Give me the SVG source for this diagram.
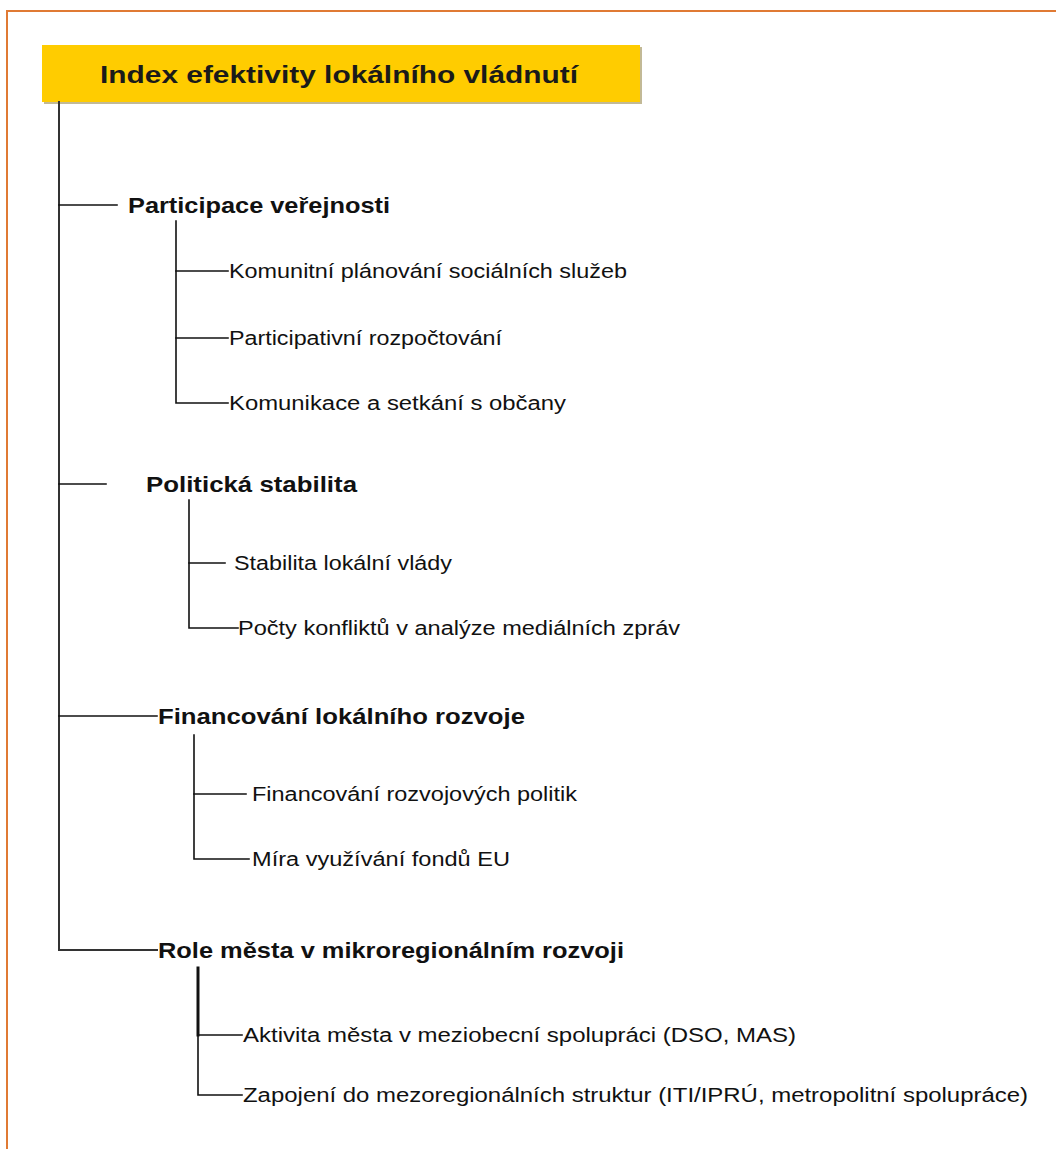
<svg xmlns="http://www.w3.org/2000/svg" width="1056" height="1149" viewBox="0 0 1056 1149">
<style>
.frame{stroke:#E07A34;stroke-width:2;fill:none}
.ln{stroke:#111;stroke-width:1.6;fill:none;stroke-linecap:square}
.t{font-family:"Liberation Sans",Arial,sans-serif;fill:#111}
.h{font-size:22px;font-weight:bold}
.s{font-size:20px}
.title{font-family:"Liberation Sans",Arial,sans-serif;font-size:24px;font-weight:bold;fill:#1a1a1a}
</style>
<rect width="1056" height="1149" fill="#fff"/>
<path class="frame" d="M7,1149 V11 H1056"/>
<g id="root">
<rect x="44" y="47" width="598" height="57" fill="#9a8a50" opacity="0.6"/>
<rect x="42" y="45" width="598" height="57" fill="#FFCC00"/>
<text class="title" x="100" y="83" textLength="478" lengthAdjust="spacingAndGlyphs">Index efektivity lokálního vládnutí</text>
</g>
<g id="connectors">
<path class="ln" d="M59,102 V950 H157" style="stroke:#333;stroke-width:2"/>
<path class="ln" d="M59,205 H117"/>
<path class="ln" d="M59,484 H106"/>
<path class="ln" d="M59,716 H157"/>
<path class="ln" d="M176,221 V403 H228"/>
<path class="ln" d="M176,271 H228"/>
<path class="ln" d="M176,338 H228"/>
<path class="ln" d="M189,500 V628 H238"/>
<path class="ln" d="M189,563 H225"/>
<path class="ln" d="M194,735 V859 H249"/>
<path class="ln" d="M194,794 H246"/>
<path class="ln" d="M198,968 V1035" style="stroke-width:3"/>
<path class="ln" d="M198,1035 V1095 H242"/>
<path class="ln" d="M198,1035 H242"/>
</g>
<g id="n1"><text class="t h" x="128" y="213" textLength="262" lengthAdjust="spacingAndGlyphs">Participace veřejnosti</text></g>
<g id="n1a"><text class="t s" x="229" y="278" textLength="398" lengthAdjust="spacingAndGlyphs">Komunitní plánování sociálních služeb</text></g>
<g id="n1b"><text class="t s" x="229" y="345" textLength="273" lengthAdjust="spacingAndGlyphs">Participativní rozpočtování</text></g>
<g id="n1c"><text class="t s" x="229" y="410" textLength="337" lengthAdjust="spacingAndGlyphs">Komunikace a setkání s občany</text></g>
<g id="n2"><text class="t h" x="146" y="492" textLength="211" lengthAdjust="spacingAndGlyphs">Politická stabilita</text></g>
<g id="n2a"><text class="t s" x="234" y="570" textLength="218" lengthAdjust="spacingAndGlyphs">Stabilita lokální vlády</text></g>
<g id="n2b"><text class="t s" x="238" y="635" textLength="442" lengthAdjust="spacingAndGlyphs">Počty konfliktů v analýze mediálních zpráv</text></g>
<g id="n3"><text class="t h" x="158" y="724" textLength="367" lengthAdjust="spacingAndGlyphs">Financování lokálního rozvoje</text></g>
<g id="n3a"><text class="t s" x="252" y="801" textLength="325" lengthAdjust="spacingAndGlyphs">Financování rozvojových politik</text></g>
<g id="n3b"><text class="t s" x="252" y="866" textLength="258" lengthAdjust="spacingAndGlyphs">Míra využívání fondů EU</text></g>
<g id="n4"><text class="t h" x="158" y="958" textLength="466" lengthAdjust="spacingAndGlyphs">Role města v mikroregionálním rozvoji</text></g>
<g id="n4a"><text class="t s" x="243" y="1042" textLength="553" lengthAdjust="spacingAndGlyphs">Aktivita města v meziobecní spolupráci (DSO, MAS)</text></g>
<g id="n4b"><text class="t s" x="243" y="1102" textLength="785" lengthAdjust="spacingAndGlyphs">Zapojení do mezoregionálních struktur (ITI/IPRÚ, metropolitní spolupráce)</text></g>
</svg>
